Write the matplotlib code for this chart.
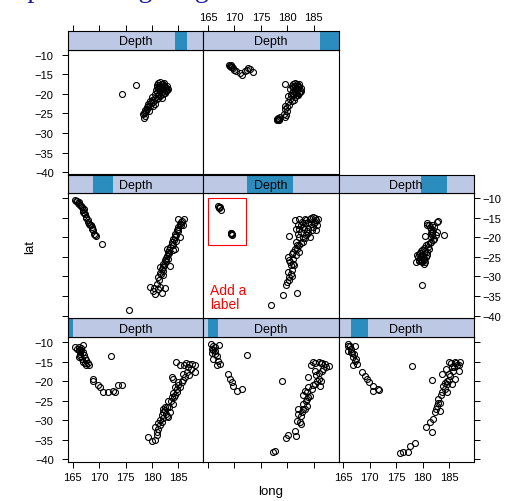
import matplotlib
matplotlib.use("Agg")
import matplotlib.pyplot as plt
from matplotlib.patches import Rectangle

plt.rcParams['font.family'] = ['Liberation Sans', 'DejaVu Sans']

# quakes: lat ~ long | equal.count(depth, 8)
long_p1 = [165.4, 165.8, 166.1, 166.9, 166.4, 167.0, 166.1, 166.7, 167.0, 167.5, 168.1, 167.6, 166.5, 167.1, 166.3, 167.3,
           168.9, 168.8, 169.8, 170.2, 170.7, 171.7, 172.7, 173.0, 173.6, 174.3, 172.2,
           179.3, 179.9, 180.6, 180.9, 181.2, 181.5, 181.5, 181.8, 182.5, 182.1, 182.8, 183.1, 183.4, 184.0, 184.4, 184.7,
           185.3, 185.6, 186.2, 186.6, 186.9, 187.5, 188.1, 188.1, 184.5, 185.3, 184.0, 185.0, 184.4, 182.6, 183.7, 183.7,
           180.6, 182.1, 183.0, 185.8, 186.8, 187.3, 181.0, 182.8,
           166.2, 166.6, 166.3, 167.3, 167.8, 182.0, 182.4, 183.2, 183.5, 184.2, 184.8, 185.0, 185.8, 186.0, 187.0,
           186.5, 181.8, 181.2, 184.0]
lat_p1 = [-11.3, -11.7, -12.1, -10.7, -13.0, -12.6, -13.9, -14.3, -15.1, -16.0, -16.0, -14.7, -11.6, -13.4, -12.5, -15.5,
          -19.4, -20.1, -21.1, -21.5, -22.8, -22.8, -22.6, -22.7, -21.1, -20.9, -13.6,
          -34.2, -35.4, -35.1, -33.0, -32.1, -31.3, -30.0, -28.7, -27.5, -27.0, -26.6, -29.2, -27.9, -25.8, -23.6, -22.8,
          -21.5, -20.2, -19.0, -17.7, -15.6, -15.6, -16.0, -17.7, -15.0, -16.0, -19.4, -20.2, -21.5, -28.3, -24.1, -19.0,
          -31.8, -29.5, -25.0, -18.2, -16.5, -17.0, -33.8, -28.8,
          -11.2, -12.0, -13.5, -14.0, -15.5, -28.0, -26.5, -26.6, -25.2, -24.0, -22.0, -21.0, -19.8, -16.0, -18.5,
          -15.3, -30.5, -30.8, -23.0]

long_p2 = [165.5, 166.0, 167.1, 165.7, 166.3, 166.6, 166.9, 167.3, 166.0, 166.3, 166.7,
           168.8, 169.2, 169.5, 169.8, 170.4, 171.4, 172.3, 178.9,
           177.2, 177.7, 179.8, 180.2, 181.5, 181.6, 181.8, 182.4, 182.1, 182.7, 183.0, 183.7, 183.3, 184.3, 184.6,
           185.2, 185.9, 184.0, 186.5, 185.2, 184.9, 185.9, 187.1, 187.8, 186.8, 186.2, 183.7,
           182.5, 183.4, 184.0, 185.5, 186.3, 183.0, 182.6,
           165.8, 166.4, 166.0, 182.0, 182.9, 183.5, 184.0, 184.8, 185.6, 186.0, 186.6, 187.3, 184.4, 185.2, 183.8,
           186.4]
lat_p2 = [-10.5, -11.0, -10.8, -12.7, -12.2, -13.5, -14.8, -15.6, -14.4, -11.4, -16.0,
          -18.2, -19.5, -20.3, -21.2, -22.5, -22.0, -13.3, -19.9,
          -38.0, -37.8, -34.6, -33.8, -32.7, -33.9, -30.1, -30.5, -27.1, -28.0, -25.8, -26.3, -22.5, -23.7, -22.0,
          -20.7, -19.5, -19.0, -17.3, -17.3, -15.2, -15.2, -15.6, -16.1, -16.9, -21.2, -24.6,
          -29.0, -27.0, -21.5, -18.5, -15.5, -23.5, -31.0,
          -11.8, -13.0, -12.0, -28.5, -27.2, -25.0, -24.0, -21.0, -20.0, -18.0, -15.5, -16.5, -16.0, -15.5, -22.8,
          -20.0]

long_p3 = [165.8, 166.3, 167.2, 165.9, 166.6, 166.9, 167.2, 167.5, 166.9, 166.4, 167.0,
           168.5, 169.1, 169.4, 169.9, 170.6, 170.7, 171.6, 171.8, 177.9,
           175.7, 176.3, 177.3, 177.6, 178.6, 180.6, 181.4, 181.7, 182.0, 182.3, 182.7, 183.0, 181.7, 183.6, 183.9,
           184.6, 183.6, 184.9, 185.5, 184.9, 186.1, 187.1, 186.8, 185.5, 184.6, 183.2, 186.1,
           182.5, 183.3, 184.2, 185.8, 186.5, 185.3,
           165.9, 166.4, 167.4, 183.4, 184.2, 184.6, 185.2, 185.9, 186.4, 186.9, 182.9, 184.4, 185.0]
lat_p3 = [-10.5, -11.0, -11.1, -12.2, -12.7, -13.9, -14.8, -15.6, -15.9, -11.8, -13.2,
          -17.6, -18.6, -19.5, -20.3, -21.2, -22.5, -22.0, -22.2, -16.2,
          -38.3, -38.2, -38.2, -36.6, -35.8, -31.8, -30.5, -32.9, -29.7, -28.0, -26.3, -24.6, -19.7, -22.9, -21.2,
          -19.9, -18.2, -18.2, -16.5, -15.2, -15.1, -15.2, -17.3, -20.7, -22.9, -27.6, -19.5,
          -27.2, -25.5, -20.5, -17.5, -16.0, -15.5,
          -11.0, -12.6, -14.3, -23.5, -22.0, -20.8, -18.8, -16.5, -15.3, -16.0, -25.6, -17.0, -19.8]

long_p4 = [165.4, 165.8, 166.1, 166.4, 166.7, 166.9, 167.0, 167.3, 167.6, 167.8, 167.9, 168.4, 168.6, 168.9, 169.1,
           169.4, 170.5, 166.2, 167.1, 168.1,
           175.6,
           179.6, 180.1, 180.6, 181.8, 182.5, 181.5, 180.9, 181.2, 181.5, 181.8, 182.1, 182.5, 182.8, 183.1, 183.4,
           183.7, 184.0, 184.4, 184.7, 185.0, 185.2, 185.0, 186.1, 185.8, 183.4, 184.4, 181.5, 182.1, 183.1, 184.0,
           182.8, 185.3, 182.0, 182.6, 183.3, 184.2, 184.9, 185.5,
           165.6, 166.0, 166.6, 167.2, 167.5, 168.2, 168.7, 169.2,
           180.3, 181.1, 181.3, 181.7, 182.0, 182.3, 182.7, 183.0, 183.3, 183.8, 184.3, 184.6, 185.0, 185.4, 185.6,
           183.9, 184.6]
lat_p4 = [-10.6, -10.8, -11.0, -11.9, -12.3, -13.1, -13.6, -14.2, -14.8, -15.7, -16.1, -17.0, -17.4, -18.2, -19.1,
          -19.8, -21.7, -11.5, -12.7, -16.6,
          -38.7,
          -32.7, -33.7, -34.4, -34.2, -32.9, -32.7, -31.9, -30.2, -29.1, -28.0, -26.9, -25.9, -24.9, -23.8, -22.5,
          -21.2, -20.4, -19.1, -18.1, -17.4, -16.6, -15.4, -15.4, -17.0, -27.4, -22.9, -27.6, -29.7, -25.5, -22.1,
          -22.9, -20.0, -27.5, -26.0, -24.0, -20.8, -18.5, -16.2,
          -10.7, -11.3, -12.0, -13.9, -15.2, -16.8, -18.0, -19.4,
          -33.0, -33.2, -31.0, -29.5, -28.5, -27.2, -25.4, -24.3, -23.2, -21.8, -20.0, -19.5, -18.0, -17.0, -15.8,
          -23.2, -21.0]

long_p5 = [167.2, 166.9, 167.4, 167.1, 167.0, 169.4, 169.3, 169.6, 169.5, 169.4,
           184.9, 185.5, 185.7, 185.5, 184.2, 183.3, 182.3, 181.4, 182.0, 183.0, 183.9, 184.5, 182.6, 183.6, 182.3,
           181.7, 183.0, 182.3, 180.3, 181.4, 182.3, 180.8, 180.1, 181.1, 180.5, 181.3, 180.8, 180.3, 180.9, 180.0,
           179.8, 179.2, 181.8, 176.9, 183.3, 184.2,
           184.0, 185.0, 182.8, 183.8, 182.0, 184.8, 181.6, 182.9, 185.2, 181.8, 180.6, 180.2,
           183.5, 184.5, 185.3, 184.7, 183.2, 182.5, 183.4, 182.6, 181.8, 181.0, 181.6, 180.4, 181.0, 180.7, 180.3,
           185.8, 184.0, 182.2]
lat_p5 = [-12.3, -12.1, -13.0, -12.6, -12.2, -19.1, -18.9, -19.5, -19.3, -18.8,
          -14.8, -15.7, -17.0, -18.2, -15.3, -15.3, -15.3, -15.7, -17.0, -17.4, -17.8, -16.6, -18.7, -19.5, -20.0,
          -21.2, -21.2, -22.1, -19.8, -22.9, -23.8, -24.2, -25.1, -25.5, -26.3, -27.2, -28.4, -30.2, -30.0, -31.4,
          -32.3, -34.7, -34.2, -37.3, -16.4, -20.0,
          -16.0, -16.5, -16.2, -18.5, -19.2, -17.5, -18.0, -20.3, -15.2, -23.0, -27.0, -29.0,
          -15.7, -15.0, -16.2, -18.2, -18.0, -16.8, -20.2, -21.6, -22.0, -23.8, -24.5, -25.8, -26.8, -29.3, -31.0,
          -15.3, -19.0, -18.0]

long_p6 = [180.9, 181.2, 182.9, 182.7, 184.0, 180.4, 178.7, 179.8, 181.5, 181.8, 182.5, 182.2, 181.5, 181.2, 180.6,
           179.9, 179.3, 179.6, 180.3, 179.3, 179.9, 180.8, 179.0, 182.2, 182.8, 181.5, 180.9, 180.3,
           181.0, 180.0, 179.5, 180.5, 181.8, 179.7,
           179.5, 179.8, 180.2, 179.4, 180.0, 180.6, 179.7, 180.3, 181.0, 181.3, 181.9, 181.6, 181.3, 182.0, 180.8,
           181.7, 179.2, 180.5]
lat_p6 = [-16.4, -17.0, -15.9, -16.0, -19.4, -19.8, -26.2, -32.3, -17.8, -18.7, -19.5, -20.4, -21.2, -22.9, -22.1,
          -23.3, -24.2, -25.1, -25.9, -25.7, -26.3, -24.6, -24.6, -17.4, -18.7, -20.0, -23.8, -26.8,
          -21.8, -24.8, -25.5, -23.5, -19.5, -26.0,
          -24.0, -24.5, -25.2, -26.0, -25.6, -25.0, -23.6, -22.8, -22.5, -21.6, -20.7, -19.0, -17.5, -18.2, -17.0,
          -16.8, -25.0, -26.4]

long_p7 = [174.4, 177.0, 181.2, 181.8, 182.5, 182.8, 182.3, 181.5, 180.9, 180.2, 179.6, 179.1, 178.7, 178.2, 178.5,
           180.9, 181.5, 181.8, 180.6, 179.9, 179.6, 179.3, 179.0, 180.9, 182.1, 181.4, 180.4, 178.7, 179.5, 180.1,
           182.0, 182.6, 181.9, 181.2, 182.2, 181.6,
           181.5, 182.3, 182.9, 183.0, 182.6, 182.0, 181.3, 180.7, 181.0, 181.7, 182.4, 181.1, 180.5, 180.0, 179.8,
           179.2, 178.9, 178.4, 178.6, 180.6, 182.7, 181.9]
lat_p7 = [-20.1, -17.8, -17.3, -17.5, -18.2, -19.0, -19.9, -20.5, -21.3, -22.2, -23.0, -23.9, -24.7, -25.2, -26.2,
          -18.3, -19.2, -18.3, -20.1, -20.9, -21.8, -22.6, -23.4, -19.6, -18.8, -17.7, -21.6, -24.1, -24.3, -23.0,
          -17.4, -18.6, -19.5, -18.6, -17.9, -18.0,
          -17.0, -17.2, -18.0, -18.7, -19.4, -20.0, -20.0, -19.0, -17.8, -18.8, -19.9, -21.0, -21.0, -21.5, -22.3,
          -23.2, -24.3, -24.8, -25.7, -22.6, -18.4, -21.0]

long_p8 = [169.1, 169.4, 169.7, 170.3, 171.0, 171.4, 172.6, 172.9, 173.5, 171.9, 169.3, 169.2,
           179.6, 181.1, 182.0, 182.5, 182.0, 181.4, 180.8, 180.5, 180.1, 180.8, 180.1, 179.6, 179.6, 179.4, 179.6,
           178.2, 178.6, 181.7, 181.4, 182.3, 181.1, 181.4, 178.1, 181.8, 182.2, 180.5, 181.0, 178.3,
           181.5, 182.3, 182.6, 182.4, 181.8, 181.0, 181.6, 180.9, 180.6, 181.2, 180.4, 180.0, 179.9, 179.8, 178.4,
           178.0, 178.5, 182.1, 181.7, 169.0, 169.5, 170.0, 172.3]
lat_p8 = [-12.8, -13.1, -13.4, -14.1, -14.8, -15.2, -13.4, -13.7, -14.4, -14.1, -12.6, -13.0,
          -17.5, -17.5, -17.9, -19.2, -20.2, -20.9, -19.9, -18.8, -20.5, -21.8, -22.2, -23.0, -23.9, -25.2, -25.8,
          -26.4, -26.0, -18.8, -19.6, -18.3, -18.3, -17.9, -26.7, -17.6, -19.8, -21.3, -20.4, -26.2,
          -17.2, -17.6, -18.6, -19.6, -20.4, -19.2, -18.5, -18.0, -20.2, -21.5, -22.8, -23.4, -24.5, -25.5, -26.5,
          -26.5, -26.8, -18.9, -19.9, -12.7, -13.2, -13.8, -13.9]

longs = [long_p1, long_p2, long_p3, long_p4, long_p5, long_p6, long_p7, long_p8]
lats = [lat_p1, lat_p2, lat_p3, lat_p4, lat_p5, lat_p6, lat_p7, lat_p8]

# shingle intervals of depth
depth_min, depth_max = 40, 680
depth_lo = [40, 60, 97, 160, 245, 429, 544, 593]
depth_hi = [65, 108, 181, 254, 462, 555, 603, 680]

x_ticks = [165, 170, 175, 180, 185]
y_ticks = [-10, -15, -20, -25, -30, -35, -40]
xlim = (164.10, 189.70)
ylim = (-40.54, -8.77)

strip_bg = '#bcc8e4'
strip_fg = '#2b8cbe'

W, H = 512, 502
fig = plt.figure(figsize=(W / 100, H / 100), dpi=100)

col_left = [68, 203.3, 338.6]
row_top = [50.8, 194.2, 338.1]
pw, ph, sh = 135.3, 124.5, 18.7

tick_kw = dict(direction='out', length=4.3, width=0.7, labelsize=8, colors='black')

for p in range(8):
    row = 2 - p // 3
    col = p % 3
    l, t = col_left[col], row_top[row]

    ax = fig.add_axes([l / W, 1 - (t + ph) / H, pw / W, ph / H])
    ax.plot(longs[p], lats[p], 'o', ms=4.3, mfc='none', mec='black', mew=0.8)
    ax.set_xlim(xlim)
    ax.set_ylim(ylim)
    ax.set_xticks(x_ticks)
    ax.set_yticks(y_ticks)
    for s in ax.spines.values():
        s.set_linewidth(0.8)
    ax.tick_params(axis='x', **tick_kw, pad=3.5,
                   bottom=(row == 2), labelbottom=(row == 2 and col != 1),
                   top=False, labeltop=False)
    ax.tick_params(axis='y', **tick_kw,
                   left=(col == 0), labelleft=(col == 0 and row != 1),
                   right=(col == 2), labelright=(col == 2 and row == 1))
    ax.tick_params(axis='y', which='major', pad=6 if col == 0 else 1.7)

    # strip with shingle indicator
    sx = fig.add_axes([l / W, 1 - t / H, pw / W, sh / H])
    sx.set_facecolor(strip_bg)
    sx.set_xlim(xlim)
    sx.set_ylim(0, 1)
    f0 = (depth_lo[p] - depth_min) / (depth_max - depth_min)
    f1 = (depth_hi[p] - depth_min) / (depth_max - depth_min)
    sx.add_patch(Rectangle((f0, 0), f1 - f0, 1, transform=sx.transAxes,
                           facecolor=strip_fg, edgecolor='none'))
    sx.text(0.5, 0.45, 'Depth', transform=sx.transAxes, ha='center', va='center', fontsize=9)
    for s in sx.spines.values():
        s.set_linewidth(0.8)
    sx.set_yticks([])
    sx.set_xticks(x_ticks)
    sx.tick_params(axis='x', **tick_kw, pad=2.5, bottom=False, labelbottom=False,
                   top=(row == 0), labeltop=(row == 0 and col == 1))

    if p == 4:
        ax.add_patch(Rectangle((165.05, -22.0), 7.05, 11.9, facecolor='none',
                               edgecolor='red', linewidth=0.8))
        ax.text(165.4, -31.6, 'Add a\nlabel', color='red', fontsize=10,
                ha='left', va='top', linespacing=1.0)

fig.text(271 / W, 1 - 492 / H, 'long', ha='center', va='center', fontsize=9.5)
fig.text(30 / W, 1 - 247 / H, 'lat', ha='center', va='center', fontsize=9.5, rotation=90)

# title sitting above the top edge, only its descenders show (as in the reference)
fig.text(-5 / W, 1 + 3 / H, 'Depth and region grid', ha='left', va='baseline',
         fontsize=20, color='#1a1a9a', family=['Liberation Serif', 'DejaVu Serif'])

fig.savefig('out.png', dpi=100)
